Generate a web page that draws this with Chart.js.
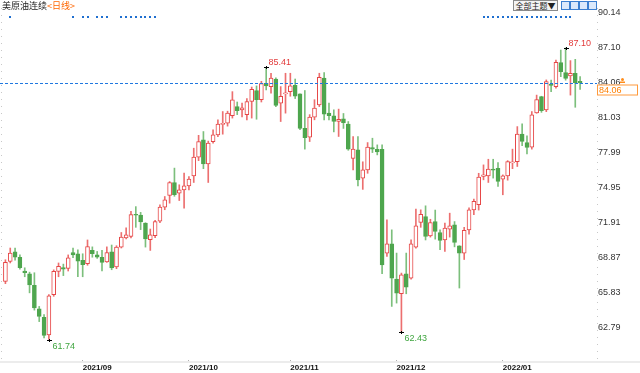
<!DOCTYPE html>
<html><head><meta charset="utf-8">
<script src="https://cdn.jsdelivr.net/npm/chart.js@4/dist/chart.umd.min.js"></script>
<style>
html,body{margin:0;padding:0;background:#fff;}
#wrap{position:relative;width:640px;height:373px;overflow:hidden;}
#c{position:absolute;left:0;top:0;}
#title{position:absolute;left:2px;top:0px;font:9px "Noto Sans CJK SC",sans-serif;color:#222;line-height:11px;white-space:nowrap;}
#title span{color:#f60;}
#theme{position:absolute;left:513px;top:0px;width:43px;height:9px;border:1px solid #8a8a8a;background:#f4f4f4;font:8px "Noto Sans CJK SC",sans-serif;line-height:9px;color:#222;text-align:center;white-space:nowrap;}
.ic{position:absolute;top:1px;width:7px;height:7px;border:1px solid #3b7fd0;background:#dbe9fb;}
</style></head>
<body><div id="wrap"><canvas id="c" width="640" height="373"></canvas>
<div id="title">美原油连续<span>&lt;日线&gt;</span></div>
<div id="theme">全部主题▼</div>
<div class="ic" style="left:561px"></div><div class="ic" style="left:570px"></div><div class="ic" style="left:579px"></div><div class="ic" style="left:588px"></div>
</div>
<script>
const dates = [
"2021/08/10","2021/08/11","2021/08/12","2021/08/13","2021/08/16","2021/08/17","2021/08/18","2021/08/19","2021/08/20","2021/08/23","2021/08/24","2021/08/25","2021/08/26","2021/08/27","2021/08/30","2021/08/31",
"2021/09/01","2021/09/02","2021/09/03","2021/09/06","2021/09/07","2021/09/08","2021/09/09","2021/09/10","2021/09/13","2021/09/14","2021/09/15","2021/09/16","2021/09/17","2021/09/20","2021/09/21","2021/09/22","2021/09/23","2021/09/24","2021/09/27","2021/09/28","2021/09/29","2021/09/30",
"2021/10/01","2021/10/04","2021/10/05","2021/10/06","2021/10/07","2021/10/08","2021/10/11","2021/10/12","2021/10/13","2021/10/14","2021/10/15","2021/10/18","2021/10/19","2021/10/20","2021/10/21","2021/10/22","2021/10/25","2021/10/26","2021/10/27","2021/10/28","2021/10/29",
"2021/11/01","2021/11/02","2021/11/03","2021/11/04","2021/11/05","2021/11/08","2021/11/09","2021/11/10","2021/11/11","2021/11/12","2021/11/15","2021/11/16","2021/11/17","2021/11/18","2021/11/19","2021/11/22","2021/11/23","2021/11/24","2021/11/25","2021/11/26","2021/11/29","2021/11/30",
"2021/12/01","2021/12/02","2021/12/03","2021/12/06","2021/12/07","2021/12/08","2021/12/09","2021/12/10","2021/12/13","2021/12/14","2021/12/15","2021/12/16","2021/12/17","2021/12/20","2021/12/21","2021/12/22","2021/12/23","2021/12/27","2021/12/28","2021/12/29","2021/12/30","2021/12/31",
"2022/01/03","2022/01/04","2022/01/05","2022/01/06","2022/01/07","2022/01/10","2022/01/11","2022/01/12","2022/01/13","2022/01/14","2022/01/17","2022/01/18","2022/01/19","2022/01/20","2022/01/21","2022/01/24","2022/01/25"];
const opens = [66.80,68.54,69.37,68.90,67.70,67.46,66.45,64.42,63.67,62.15,65.64,67.66,68.00,67.93,69.30,69.20,
68.62,68.33,69.50,69.10,68.90,68.50,69.37,68.05,69.78,70.57,70.70,72.60,72.56,71.87,70.42,70.77,72.04,73.26,74.27,75.40,74.47,74.76,
75.10,75.97,77.60,79.10,77.02,78.96,79.54,80.45,80.56,81.20,82.00,81.70,81.30,82.44,83.40,82.60,84.03,83.74,84.40,82.30,83.10,
83.30,83.85,83.10,80.10,79.34,81.08,82.15,84.47,81.43,81.20,80.70,80.93,80.47,77.50,78.24,75.78,76.50,78.44,78.29,78.29,69.26,70.07,
67.00,65.72,67.46,67.08,69.78,71.92,72.44,70.76,72.00,71.05,70.41,71.34,71.72,69.90,69.26,71.28,73.02,73.46,75.92,75.98,76.55,76.64,
75.69,75.98,77.10,77.22,79.60,78.87,78.47,81.45,82.87,81.71,83.95,83.74,85.82,84.95,84.66,84.90,84.20];
const highs = [68.68,69.70,69.70,69.10,67.98,67.60,67.55,64.62,63.90,65.64,67.80,68.40,68.30,69.10,69.70,69.55,
69.20,70.40,69.80,69.40,69.50,69.80,69.96,69.90,71.05,71.45,72.90,73.30,72.80,71.90,71.35,72.10,73.46,74.18,75.48,76.65,75.20,76.21,
75.92,78.38,79.50,79.83,79.00,79.97,80.84,81.57,81.60,83.30,82.40,82.30,82.70,83.70,83.80,84.20,85.41,84.90,84.50,83.74,84.90,
84.90,84.40,83.10,83.40,81.30,82.60,84.90,84.96,82.30,81.72,81.78,81.40,80.70,79.40,79.40,77.20,78.87,79.25,78.67,78.67,72.15,71.28,
69.26,67.52,69.26,70.41,73.08,73.02,73.37,72.20,73.00,71.28,71.86,72.73,72.00,69.90,71.50,73.20,73.95,76.20,76.93,77.42,77.42,77.13,
76.06,77.30,78.30,80.26,80.50,79.45,81.57,83.00,82.90,84.32,84.30,86.05,86.92,87.10,86.00,86.11,84.60];
const lows = [66.60,68.40,68.65,67.87,67.20,65.80,64.30,63.30,61.87,61.74,65.50,67.20,67.30,67.70,68.85,67.20,
67.20,68.20,68.90,68.80,67.70,68.45,67.81,67.90,69.70,70.50,70.57,71.50,71.30,69.78,69.49,70.60,71.90,73.03,73.60,74.20,73.83,73.17,
74.76,75.40,77.30,76.60,75.40,78.82,79.39,79.60,80.30,81.00,81.30,81.10,80.84,81.00,80.90,82.40,83.45,83.16,82.00,80.70,81.43,
82.90,82.70,80.00,78.30,78.96,80.85,82.00,80.85,80.85,79.80,79.40,80.10,78.20,76.50,75.10,74.80,76.20,78.00,77.80,67.46,68.97,64.62,
64.91,62.43,65.72,67.00,69.69,71.50,70.40,70.65,70.47,69.55,69.40,70.65,69.80,66.22,68.70,70.90,72.60,73.00,75.63,75.40,75.78,75.05,
74.33,75.60,76.60,76.79,78.60,77.89,78.30,81.42,81.50,81.56,83.30,83.60,84.60,84.30,83.00,81.94,83.50];
const closes = [68.45,69.27,68.90,68.00,67.55,66.50,64.48,63.75,62.10,65.55,67.67,68.10,67.85,68.84,69.10,68.55,
68.25,69.83,69.20,68.90,68.45,69.30,67.96,69.78,70.65,70.85,72.60,72.55,71.98,70.48,70.85,72.00,73.26,73.89,75.40,74.33,74.76,75.10,
75.69,77.60,78.96,77.02,78.82,79.54,80.47,80.55,81.43,82.58,81.65,81.90,82.44,83.50,82.60,84.00,83.80,84.47,82.10,82.90,83.20,
83.80,82.90,80.10,79.30,81.08,81.86,84.55,81.34,81.20,80.70,80.90,80.60,78.30,78.30,75.63,76.50,78.47,78.29,78.06,68.24,70.07,67.08,
65.78,67.37,66.30,70.07,71.63,72.64,70.70,71.92,71.14,70.36,71.43,71.63,70.18,69.26,71.23,73.02,73.75,75.86,76.06,76.56,76.48,75.49,
75.98,77.22,77.20,79.60,78.96,78.44,81.28,82.60,81.65,84.17,83.85,85.85,85.04,84.46,84.90,84.08,84.06];
const yTicks = [62.79,65.83,68.87,71.91,74.95,77.99,81.03,84.06,87.10,90.14];
const lastPrice = 84.06;
const eventIdx = [1,14,16,17,19,20,21,24,25,26,27,28,29,30,31,99,100,101,102,103,104,105,106,107,108,109,110,111,112,113,114,115,116,117];
const markIdx = [{i:54,kind:'high'},{i:116,kind:'high'},{i:9,kind:'low'},{i:82,kind:'low'}];

const RED='#e64646', GREEN='#4ea64e', RED_WICK='#ec6f6f', GREEN_WICK='#7cbf7c';
const padCount = 3;
const labels = dates.concat(Array(padCount).fill(''));
const monthLabel = labels.map((d,i)=>{
  if(!d || i===0) return '';
  const p = dates[i-1];
  return d.slice(0,7)!==p.slice(0,7) ? d.slice(0,7) : '';
});
const isUp = dates.map((d,i)=>closes[i]>=opens[i]);
const wickData = dates.map((d,i)=>[lows[i],highs[i]]);
const bodyData = dates.map((d,i)=>[opens[i],closes[i]]);

const extras = {
  id:'extras',
  beforeDatasetsDraw(chart){
    const {ctx, chartArea:a} = chart;
    ctx.save();
    ctx.strokeStyle='#c8c8c8'; ctx.lineWidth=1; ctx.setLineDash([1,6]);
    ctx.beginPath(); ctx.moveTo(1.5,a.top); ctx.lineTo(1.5,a.bottom); ctx.stroke();
    ctx.beginPath(); ctx.moveTo(a.right+0.5,a.top); ctx.lineTo(a.right+0.5,a.bottom); ctx.stroke();
    ctx.setLineDash([]);
    ctx.fillStyle='#ececec'; ctx.fillRect(0,a.bottom+1,640,2);
    ctx.restore();
  },
  afterDatasetsDraw(chart){
    const {ctx, chartArea:a, scales:{x,y}} = chart;
    ctx.save();
    const ly = Math.round(y.getPixelForValue(lastPrice))+0.5;
    ctx.strokeStyle='#1f78e0'; ctx.lineWidth=1; ctx.setLineDash([3,2]);
    ctx.beginPath(); ctx.moveTo(0,ly); ctx.lineTo(a.right,ly); ctx.stroke();
    ctx.setLineDash([]);
    ctx.fillStyle='#fff'; ctx.fillRect(a.right,ly+1,41,10);
    ctx.strokeStyle='#ff9a3c'; ctx.strokeRect(a.right+0.5,ly+1.5,40,10);
    ctx.fillStyle='#ff7f00'; ctx.font='9px "Liberation Sans", Arial'; ctx.textBaseline='middle'; ctx.textAlign='left';
    ctx.fillText(lastPrice.toFixed(2), a.right+2, ly+7);
    ctx.fillStyle='#ff8c1a'; ctx.beginPath(); ctx.arc(622.5,ly-4,1.5,0,Math.PI*2); ctx.fill();
    ctx.fillRect(620,ly-2,5,1.5);
    ctx.fillStyle='#1f6fd0';
    eventIdx.forEach(i=>{ const px=Math.round(x.getPixelForValue(i)); ctx.fillRect(px-1,16,2,2); });
    ctx.font='9px "Liberation Sans", Arial';
    markIdx.forEach(m=>{
      const px = Math.round(x.getPixelForValue(m.i))+0.5;
      const v = m.kind==='high'?highs[m.i]:lows[m.i];
      const py = Math.round(y.getPixelForValue(v))+0.5;
      ctx.strokeStyle='#000'; ctx.lineWidth=1;
      ctx.beginPath(); ctx.moveTo(px-2.5,py); ctx.lineTo(px+2.5,py); ctx.moveTo(px,py-1.5); ctx.lineTo(px,py+1.5); ctx.stroke();
      if(m.kind==='high'){
        ctx.fillStyle='#e23a3a'; ctx.textBaseline='bottom'; ctx.fillText(v.toFixed(2), px+2, py-0.5);
      } else {
        ctx.fillStyle='#3fa53f'; ctx.textBaseline='top'; ctx.fillText(v.toFixed(2), px+3, py+2);
      }
    });
    ctx.restore();
  }
};

new Chart(document.getElementById('c'), {
  type:'bar',
  data:{
    labels,
    datasets:[
      {label:'body', data:bodyData, grouped:false, order:0, barThickness:4, minBarLength:1,
       backgroundColor:dates.map((d,i)=>isUp[i]?'#ffffff':GREEN),
       borderColor:dates.map((d,i)=>isUp[i]?RED:GREEN), borderWidth:1, borderSkipped:false},
      {label:'wick', data:wickData, grouped:false, order:1, barThickness:1,
       backgroundColor:dates.map((d,i)=>isUp[i]?RED_WICK:GREEN_WICK), borderWidth:0}
    ]
  },
  options:{
    responsive:false, animation:false, devicePixelRatio:1,
    layout:{padding:{left:3,top:8,right:0,bottom:0}},
    plugins:{legend:{display:false}, tooltip:{enabled:false}},
    scales:{
      x:{offset:true,
         grid:{offset:false, drawOnChartArea:false, tickLength:3, color:(c)=>monthLabel[c.index]?'#b0b0b0':'rgba(0,0,0,0)'},
         border:{display:false},
         ticks:{autoSkip:false, maxRotation:0, minRotation:0, align:'start', padding:0, color:'#111',
                font:{family:'"Liberation Sans", Arial', size:8, weight:'bold'},
                callback:(v,i)=>monthLabel[i]},
         afterFit:(s)=>{s.height=13;}},
      y:{position:'right', min:59.96, max:90.575,
         afterBuildTicks:(s)=>{ s.ticks = yTicks.map(v=>({value:v})); },
         grid:{display:false, drawTicks:false}, border:{display:false},
         ticks:{padding:1, color:'#333', font:{family:'"Liberation Sans", Arial', size:9},
                callback:(v)=>Number(v).toFixed(2)},
         afterFit:(s)=>{s.width=43;}}
    }
  },
  plugins:[extras]
});
</script></body></html>
